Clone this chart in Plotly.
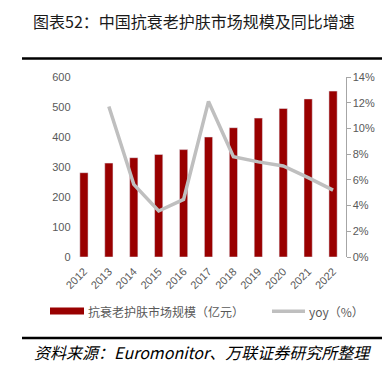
import plotly.graph_objects as go

years = ["2012", "2013", "2014", "2015", "2016", "2017", "2018", "2019", "2020", "2021", "2022"]
market_size = [281, 313, 331, 342, 358, 400, 431, 463, 495, 527, 553]
yoy = [None, 0.117, 0.0565, 0.0358, 0.0448, 0.121, 0.078, 0.074, 0.0708, 0.0617, 0.052]
y_left_ticks = [0, 100, 200, 300, 400, 500, 600]
y_right_ticks = [0, 0.02, 0.04, 0.06, 0.08, 0.10, 0.12, 0.14]

W, H = 390, 365
FONT = "Noto Sans CJK SC"
GRAY = "#595959"

def px(x):
    return x / W

def py(y):
    return 1 - y / H

fig = go.Figure()
fig.add_trace(go.Bar(x=years, y=market_size, marker_color="#990000", width=0.33,
                     name="抗衰老护肤市场规模（亿元）", showlegend=False))
fig.add_trace(go.Scatter(x=years, y=yoy, mode="lines", yaxis="y2",
                         line=dict(color="#BFBFBF", width=3.5),
                         name="yoy（%）", showlegend=False))

fig.update_layout(
    width=W, height=H,
    margin=dict(l=0, r=0, t=0, b=0, autoexpand=False),
    paper_bgcolor="white", plot_bgcolor="white",
    font=dict(family=FONT, color=GRAY, size=11),
    xaxis=dict(domain=[px(63.5), px(337.5)], type="category", tickangle=-45,
               showline=False, showgrid=False, ticks="", automargin=False,
               ticklabelstandoff=5,
               tickfont=dict(family="Liberation Sans", size=11, color=GRAY)),
    yaxis=dict(domain=[py(249), py(69)], range=[0, 600], tickvals=y_left_ticks,
               showgrid=False, showline=False, ticks="", zeroline=False, automargin=False,
               tickfont=dict(family="Liberation Sans", size=11, color=GRAY)),
    yaxis2=dict(overlaying="y", side="right", range=[0, 0.14], tickvals=y_right_ticks,
                tickformat=".0%", showgrid=False, showline=True, linecolor="#A6A6A6",
                linewidth=1, ticks="outside", ticklen=4, tickcolor="#A6A6A6",
                zeroline=False, automargin=False,
                tickfont=dict(family="Liberation Sans", size=11, color=GRAY)),
)

shapes = [
    dict(type="line", xref="paper", yref="paper", x0=px(14), x1=px(390), y0=py(50.5), y1=py(50.5),
         line=dict(color="black", width=2.5)),
    dict(type="line", xref="paper", yref="paper", x0=px(14), x1=px(390), y0=py(330), y1=py(330),
         line=dict(color="black", width=2.5)),
    dict(type="rect", xref="paper", yref="paper", x0=px(42), x1=px(76), y0=py(306.5), y1=py(299.5),
         fillcolor="#990000", line=dict(width=0)),
    dict(type="line", xref="paper", yref="paper", x0=px(264), x1=px(297), y0=py(303.3), y1=py(303.3),
         line=dict(color="#BFBFBF", width=3.5)),
]
fig.update_layout(shapes=shapes)

annotations = [
    dict(text="图表52：中国抗衰老护肤市场规模及同比增速", xref="paper", yref="paper",
         x=px(23), y=py(13), xanchor="left", yanchor="middle", showarrow=False,
         font=dict(family=FONT, size=16, color="#1a1a1a")),
    dict(text="抗衰老护肤市场规模（亿元）", xref="paper", yref="paper",
         x=px(78), y=py(303.5), xanchor="left", yanchor="middle", showarrow=False,
         font=dict(family=FONT, size=12, color=GRAY)),
    dict(text="yoy（%）", xref="paper", yref="paper",
         x=px(299), y=py(303.5), xanchor="left", yanchor="middle", showarrow=False,
         font=dict(family=FONT, size=12, color=GRAY)),
    dict(text="<i>资料来源：Euromonitor、万联证券研究所整理</i>", xref="paper", yref="paper",
         x=px(24), y=py(344), xanchor="left", yanchor="middle", showarrow=False,
         font=dict(family=FONT, size=16, color="black")),
]
fig.update_layout(annotations=annotations)

fig.write_html("out.html")
